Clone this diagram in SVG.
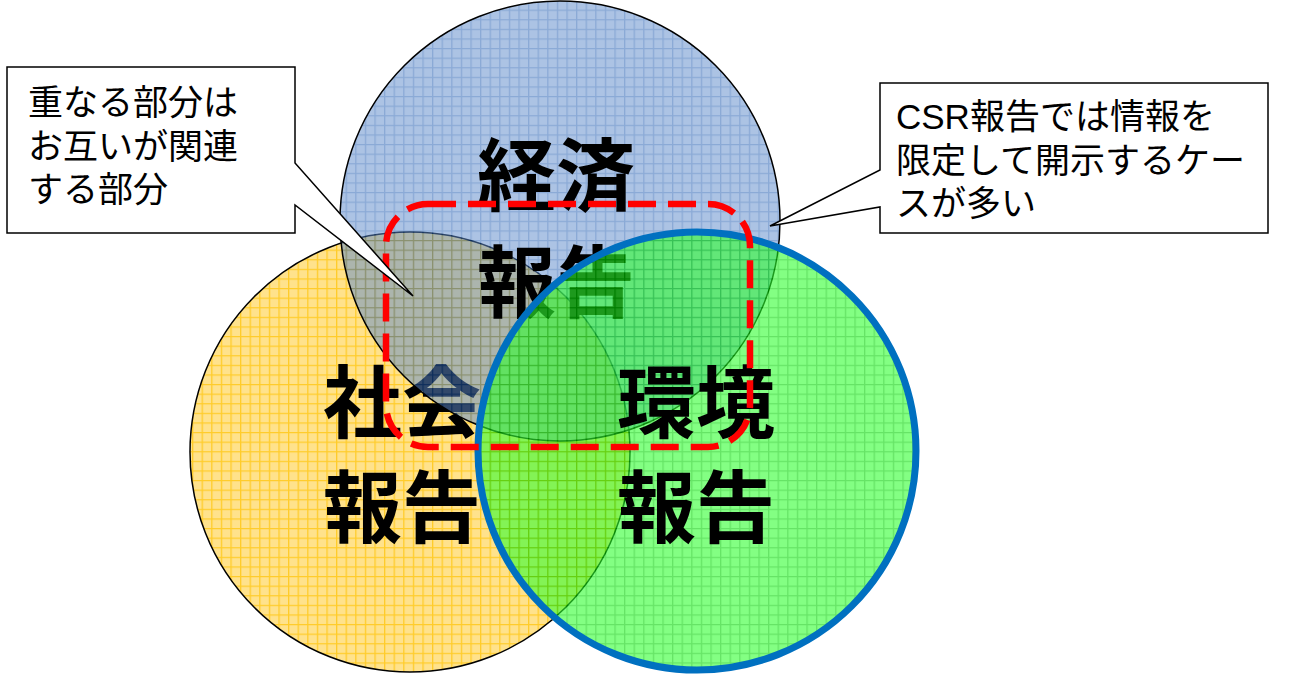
<svg xmlns="http://www.w3.org/2000/svg" width="1300" height="674" viewBox="0 0 1300 674">
<defs>
<pattern id="pY" width="9.6" height="9.6" patternUnits="userSpaceOnUse">
<rect width="9.6" height="9.6" fill="#FFE28C"/>
<path d="M0 0.6H9.6M0.6 0V9.6" stroke="#FFCC2A" stroke-width="1.4"/>
</pattern>
<pattern id="pB" width="9.6" height="9.6" patternUnits="userSpaceOnUse">
<rect width="9.6" height="9.6" fill="#5F8BCB"/>
<path d="M0 0.6H9.6M0.6 0V9.6" stroke="#1F5BB0" stroke-width="1.4"/>
</pattern>
<pattern id="pG" width="9.6" height="9.6" patternUnits="userSpaceOnUse">
<rect width="9.6" height="9.6" fill="#30FF30"/>
<path d="M0 0.6H9.6M0.6 0V9.6" stroke="#00D200" stroke-width="1.4"/>
</pattern>
</defs>
<style>
.big{font-family:"Noto Sans CJK JP","Liberation Sans",sans-serif;font-weight:bold;font-size:79px;fill:#000;text-anchor:middle}
.note{font-family:"Liberation Sans","Noto Sans CJK JP",sans-serif;font-size:35px;fill:#000}
.box{fill:#fff;stroke:#000;stroke-width:1.5}
</style>
<rect width="1300" height="674" fill="#fff"/>
<g id="social">
<circle cx="410" cy="452" r="220" fill="url(#pY)" stroke="#000" stroke-width="1.5"/>
<text class="big" x="402" y="432">社会</text>
<text class="big" x="402" y="537">報告</text>
</g>
<g id="economy">
<circle cx="560" cy="221" r="220" fill="url(#pB)" opacity="0.52"/>
<circle cx="560" cy="221" r="220" fill="none" stroke="#000" stroke-width="1.5"/>
<text class="big" x="556" y="205">経済</text>
<text class="big" x="556" y="312">報告</text>
</g>
<g id="environment">
<circle cx="697" cy="451" r="219" fill="url(#pG)" opacity="0.6"/>
<circle cx="697" cy="451" r="219" fill="none" stroke="#0070C0" stroke-width="7"/>
<text class="big" x="696" y="432">環境</text>
<text class="big" x="696" y="537">報告</text>
</g>
<g id="highlight">
<rect x="386" y="204" width="364" height="243" rx="42" fill="none" stroke="#FF0000" stroke-width="6.5" stroke-dasharray="28,12"/>
</g>
<g id="connectors">
</g>
<g id="note-overlap">
<path class="box" d="M7 67H295V163L413 296L295 205V233H7Z"/>
<text class="note" x="28" y="115">重なる部分は</text>
<text class="note" x="28" y="159">お互いが関連</text>
<text class="note" x="28" y="202">する部分</text>
</g>
<g id="note-csr">
<path class="box" d="M880 83H1268V233H880V207L770 226L880 170Z"/>
<text class="note" x="896" y="129">CSR報告では情報を</text>
<text class="note" x="896" y="173">限定して開示するケー</text>
<text class="note" x="896" y="216">スが多い</text>
</g>
</svg>
